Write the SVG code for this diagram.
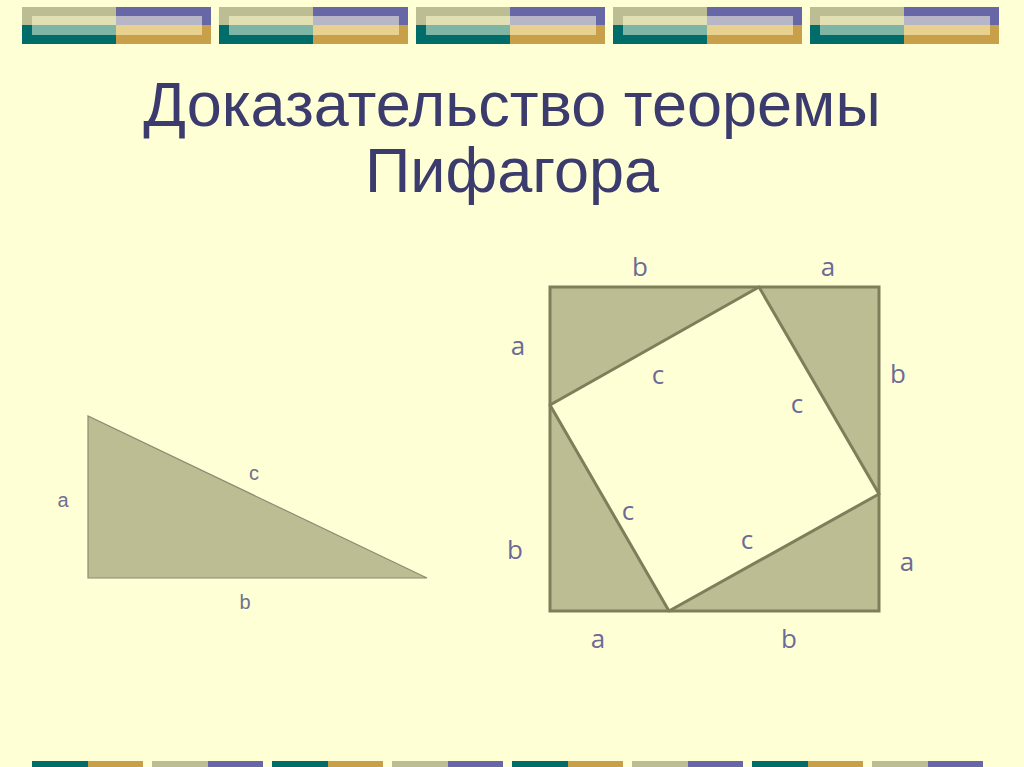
<svg xmlns="http://www.w3.org/2000/svg" width="1024" height="767" viewBox="0 0 1024 767">
<defs>
<style>
.title{font-family:"Liberation Sans",Arial,sans-serif;font-size:63px;fill:#3B3B6E;text-anchor:middle}
.tl{font-family:"Liberation Sans",Arial,sans-serif;font-size:20px;fill:#707090;text-anchor:middle}
.sl{font-family:"Open Sans","Noto Sans",sans-serif;font-size:26px;fill:#6B6B95;text-anchor:middle}
.shape{fill:#BDBD94}
</style>
<g id="topbar">
<rect x="0" y="0" width="189" height="19" fill="#BDBD94"/>
<rect x="0" y="18" width="95" height="19" fill="#006D6A"/>
<rect x="94" y="0" width="95" height="19" fill="#6767A8"/>
<rect x="94" y="18" width="95" height="19" fill="#C9A04A"/>
<rect x="10" y="9" width="85" height="10" fill="#E0E0B4"/>
<rect x="10" y="18" width="85" height="10" fill="#7FB5A5"/>
<rect x="94" y="9" width="86" height="10" fill="#B6B6C6"/>
<rect x="94" y="18" width="86" height="10" fill="#E8D08E"/>
</g>
<g id="botA">
<rect x="0" y="0" width="56" height="6" fill="#006D6A"/>
<rect x="56" y="0" width="55" height="6" fill="#C9A04A"/>
</g>
<g id="botB">
<rect x="0" y="0" width="56" height="6" fill="#BDBD94"/>
<rect x="56" y="0" width="55" height="6" fill="#6767A8"/>
</g>
</defs>
<rect width="1024" height="767" fill="#FFFFD6"/>
<g id="decor-top">
<use href="#topbar" x="22" y="7"/>
<use href="#topbar" x="219" y="7"/>
<use href="#topbar" x="416" y="7"/>
<use href="#topbar" x="613" y="7"/>
<use href="#topbar" x="810" y="7"/>
</g>
<g id="decor-bottom">
<use href="#botA" x="32" y="761"/>
<use href="#botB" x="152" y="761"/>
<use href="#botA" x="272" y="761"/>
<use href="#botB" x="392" y="761"/>
<use href="#botA" x="512" y="761"/>
<use href="#botB" x="632" y="761"/>
<use href="#botA" x="752" y="761"/>
<use href="#botB" x="872" y="761"/>
</g>
<g id="title">
<text class="title" x="512" y="126">Доказательство теоремы</text>
<text class="title" x="512" y="192">Пифагора</text>
</g>
<g id="triangle">
<polygon class="shape" points="88,416 88,578 427,578" stroke="#8C8C74" stroke-width="1.2"/>
<text class="tl" x="63" y="507">a</text>
<text class="tl" x="254" y="480">c</text>
<text class="tl" x="245" y="609">b</text>
</g>
<g id="square">
<rect class="shape" x="550" y="287" width="329" height="324" stroke="#7E7E5A" stroke-width="3"/>
<polygon points="759,287 879,494 669,611 550,405" fill="#FFFFD6" stroke="#7E7E5A" stroke-width="3" stroke-linejoin="round"/>
</g>
<g id="labels">
<text class="sl" x="640" y="276">b</text>
<text class="sl" x="828" y="276">a</text>
<text class="sl" x="518" y="355">a</text>
<text class="sl" x="898" y="383">b</text>
<text class="sl" x="515" y="559">b</text>
<text class="sl" x="907" y="571">a</text>
<text class="sl" x="598" y="648">a</text>
<text class="sl" x="789" y="648">b</text>
<text class="sl" x="658" y="384">c</text>
<text class="sl" x="797" y="413">c</text>
<text class="sl" x="628" y="520">c</text>
<text class="sl" x="747" y="549">c</text>
</g>
</svg>
